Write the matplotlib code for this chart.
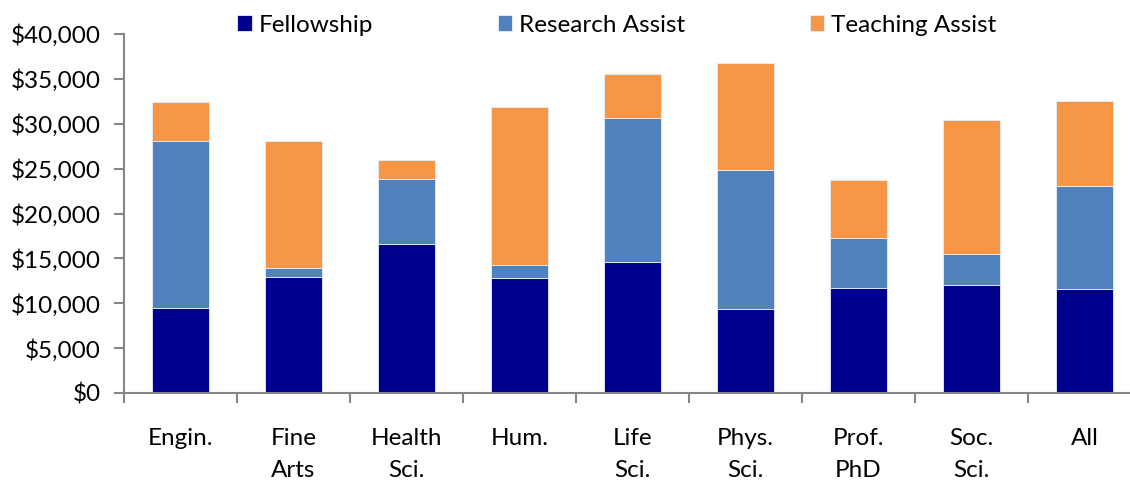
import matplotlib
matplotlib.use("Agg")
import matplotlib.pyplot as plt
import numpy as np
from matplotlib.ticker import FuncFormatter, FixedLocator

plt.rcParams["font.family"] = ["Lato", "DejaVu Sans"]

categories = ["Engin.", "Fine\nArts", "Health\nSci.", "Hum.", "Life\nSci.",
              "Phys.\nSci.", "Prof.\nPhD", "Soc.\nSci.", "All"]
fellowship = [9430, 12900, 16600, 12770, 14550, 9360, 11650, 11990, 11590]
research = [18670, 1000, 7200, 1490, 16120, 15520, 5580, 3530, 11430]
teaching = [4300, 14200, 2200, 17640, 4910, 11890, 6540, 14880, 9550]

series_names = ["Fellowship", "Research Assist", "Teaching Assist"]
colors = ["#00008E", "#4F81BD", "#F79646"]

fig = plt.figure(figsize=(11.3, 4.8), dpi=100)
ax = fig.add_axes([124 / 1130, 87 / 480, 1017 / 1130, 359 / 480])

x = np.arange(len(categories))
bottom = np.zeros(len(categories))
for name, vals, c in zip(series_names, [fellowship, research, teaching], colors):
    ax.bar(x, vals, 0.5, bottom=bottom, color=c, label=name,
           edgecolor="#e8eef7", linewidth=0.6)
    bottom += np.array(vals)

ax.set_xlim(-0.5, len(categories) - 0.5)
ax.set_ylim(0, 40000)
ax.set_yticks(np.arange(0, 40001, 5000))
ax.yaxis.set_major_formatter(FuncFormatter(lambda v, p: f"${v:,.0f}"))

ax.set_xticks(x)
ax.set_xticklabels(categories, fontsize=17.5, linespacing=1.65, va="top")
ax.xaxis.set_minor_locator(FixedLocator(np.arange(-0.5, len(categories), 1.0)))
ax.tick_params(axis="x", which="major", length=0, pad=25)
ax.tick_params(axis="x", which="minor", length=7, width=1.5, color="#868686")
ax.tick_params(axis="y", length=7, width=1.5, color="#868686", labelsize=17.5, pad=10)

for s in ["top", "right"]:
    ax.spines[s].set_visible(False)
for s in ["left", "bottom"]:
    ax.spines[s].set_color("#868686")
    ax.spines[s].set_linewidth(1.5)

fig.legend(loc="center", bbox_to_anchor=(617 / 1130, 1 - 25 / 480), ncol=3,
           frameon=False, fontsize=17.5, handlelength=0.6, handleheight=0.6,
           handletextpad=0.3, columnspacing=5.1)

fig.savefig("out.png", dpi=100)
